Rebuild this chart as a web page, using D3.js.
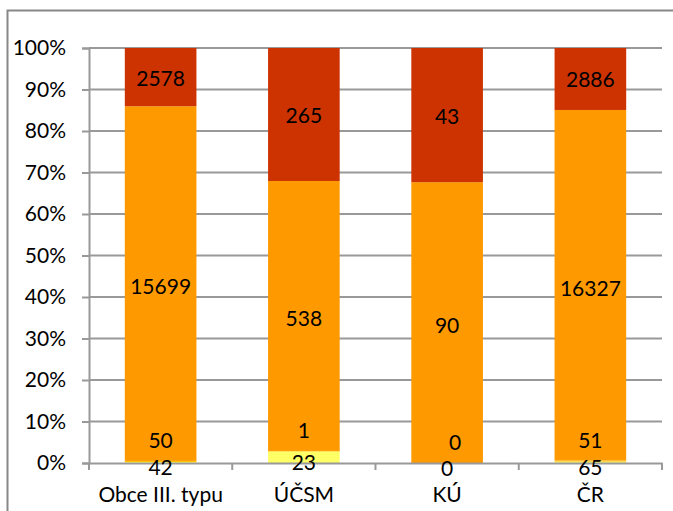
<!DOCTYPE html>
<html><head><meta charset="utf-8">
<script src="https://cdn.jsdelivr.net/npm/d3@7"></script>
<style>
html,body{margin:0;padding:0;background:#fff;overflow:hidden;}
svg{display:block;}
svg text{font-family:Lato,"Liberation Sans",sans-serif;fill:#000;}
</style></head>
<body><svg id="c" width="673" height="511"></svg>
<script>
const categories = ["Obce III. typu","ÚČSM","KÚ","ČR"];
const series1 = [42,23,0,65];
const series2 = [50,1,0,51];
const series3 = [15699,538,90,16327];
const series4 = [2578,265,43,2886];
const seriesNames = ["s1","s2","s3","s4"];
const colors = ["#FFFF66","#FFC000","#FF9900","#CC3300"];
const yTicks = [0,0.1,0.2,0.3,0.4,0.5,0.6,0.7,0.8,0.9,1];
const FS = 21;

const svg = d3.select("#c");
svg.append("path").attr("d","M7.5,511V10.5H673")
  .attr("fill","none").attr("stroke","#888").attr("stroke-width",2);

const pL=89,pR=662,pT=48,pB=463;
const x = d3.scaleBand().domain(categories).range([pL,pR]).paddingInner(0.5).paddingOuter(0.25);
const y = d3.scaleLinear().domain([0,1]).range([pB,pT]);

const table = categories.map((c,i)=>({cat:c,s1:series1[i],s2:series2[i],s3:series3[i],s4:series4[i]}));
const stack = d3.stack().keys(seriesNames).offset(d3.stackOffsetExpand);
const layers = stack(table);

svg.append("g").selectAll("line").data(yTicks.filter(d=>d>0)).join("line")
  .attr("x1",pL).attr("x2",pR).attr("y1",d=>y(d)).attr("y2",d=>y(d))
  .attr("stroke","#999").attr("stroke-width",2);

layers.forEach((L,k)=>{
  svg.append("g").selectAll("rect").data(L).join("rect")
    .attr("x",d=>x(d.data.cat)).attr("width",x.bandwidth())
    .attr("y",d=>y(d[1])).attr("height",d=>y(d[0])-y(d[1]))
    .attr("fill",colors[k]);
});

const yAxis = d3.axisLeft(y).tickValues(yTicks).tickFormat(d3.format(".0%")).tickSize(7).tickPadding(16);
const gy = svg.append("g").attr("transform",`translate(${pL},0)`).call(yAxis);
gy.select(".domain").attr("stroke","#999").attr("stroke-width",2);
gy.selectAll(".tick line").attr("stroke","#999").attr("stroke-width",2);
gy.selectAll("text").attr("font-size",FS).attr("font-family","Lato,'Liberation Sans',sans-serif");

const xb = d3.scaleBand().domain(categories).range([pL,pR]);
const xAxis = d3.axisBottom(xb).tickSize(0).tickPadding(24);
const gx = svg.append("g").attr("transform",`translate(0,${pB})`).call(xAxis);
gx.select(".domain").attr("stroke","#999").attr("stroke-width",2);
gx.selectAll("text").attr("font-size",FS).attr("font-family","Lato,'Liberation Sans',sans-serif");
svg.append("g").selectAll("line").data(categories.map(c=>xb(c)).concat([pR])).join("line")
  .attr("x1",d=>d).attr("x2",d=>d).attr("y1",pB).attr("y2",pB+7)
  .attr("stroke","#999").attr("stroke-width",2);

const lblOff = [4,-22,2,0];
layers.forEach((L,k)=>{
  svg.append("g").selectAll("text").data(L).join("text")
    .attr("x",d=>x(d.data.cat)+x.bandwidth()/2 + (k===1 && d.data.s2===0 ? 8 : 0))
    .attr("y",d=>(y(d[0])+y(d[1]))/2+lblOff[k])
    .attr("text-anchor","middle").attr("dominant-baseline","central")
    .attr("font-size",FS)
    .text(d=>d.data[seriesNames[k]]);
});
</script></body></html>
